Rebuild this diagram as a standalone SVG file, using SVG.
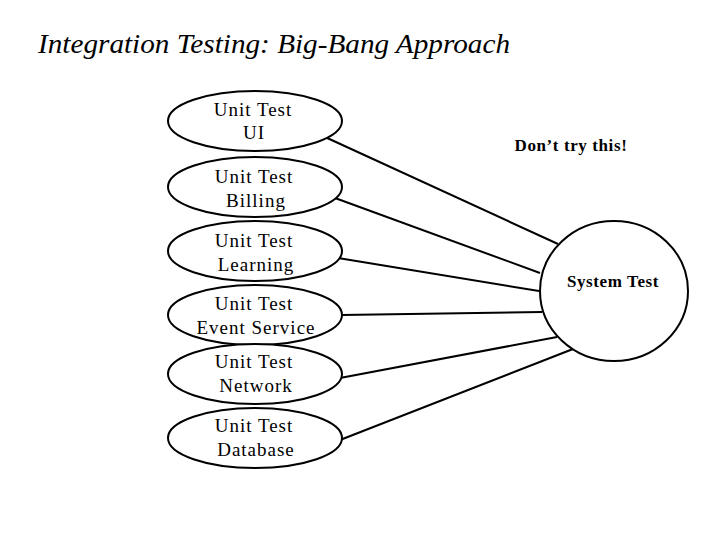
<svg xmlns="http://www.w3.org/2000/svg" width="720" height="540" viewBox="0 0 720 540">
<style>
.node{fill:#fff;stroke:#000;stroke-width:2}
.lbl{font-family:"Liberation Serif","Times New Roman",serif;font-weight:bold;font-size:17px;text-anchor:middle;fill:#000;letter-spacing:0.6px}
.ut{font-weight:normal;font-size:19px;letter-spacing:1px}
.title{font-family:"Liberation Serif","Times New Roman",serif;font-style:italic;font-size:28px;fill:#000}
.conn line{stroke:#000;stroke-width:2}
</style>
<rect width="720" height="540" fill="#fff"/>
<text class="title" x="38" y="53" textLength="472" lengthAdjust="spacingAndGlyphs">Integration Testing: Big-Bang Approach</text>
<g class="conn" id="connectors">
<line x1="325" y1="137" x2="558" y2="244"/>
<line x1="335" y1="198" x2="540" y2="273"/>
<line x1="338" y1="258" x2="539" y2="291"/>
<line x1="342" y1="315" x2="542" y2="312"/>
<line x1="340" y1="378" x2="557" y2="337"/>
<line x1="340" y1="440" x2="573" y2="349"/>
</g>
<g id="ut-ui"><ellipse class="node" cx="255" cy="121" rx="87" ry="30"/><text class="lbl ut" x="253" y="116">Unit Test</text><text class="lbl ut" x="254" y="139">UI</text></g>
<g id="ut-billing"><ellipse class="node" cx="255" cy="187" rx="87" ry="30"/><text class="lbl ut" x="254" y="183">Unit Test</text><text class="lbl ut" x="256" y="207">Billing</text></g>
<g id="ut-learning"><ellipse class="node" cx="255" cy="251" rx="87" ry="30"/><text class="lbl ut" x="254" y="247">Unit Test</text><text class="lbl ut" x="256" y="271">Learning</text></g>
<g id="ut-event"><ellipse class="node" cx="255" cy="315" rx="87" ry="30"/></g>
<g id="ut-network"><ellipse class="node" cx="255" cy="374" rx="87" ry="30"/><text class="lbl ut" x="254" y="368">Unit Test</text><text class="lbl ut" x="256" y="392">Network</text></g>
<g id="ut-event-labels"><text class="lbl ut" x="254" y="310">Unit Test</text><text class="lbl ut" x="256" y="334">Event Service</text></g>
<g id="ut-database"><ellipse class="node" cx="255" cy="438" rx="87" ry="30"/><text class="lbl ut" x="254" y="432">Unit Test</text><text class="lbl ut" x="256" y="456">Database</text></g>
<g id="system-test"><ellipse class="node" cx="614" cy="291" rx="74" ry="70"/><text class="lbl" x="613" y="287">System Test</text></g>
<text class="lbl" x="571" y="151">Don’t try this!</text>
</svg>
